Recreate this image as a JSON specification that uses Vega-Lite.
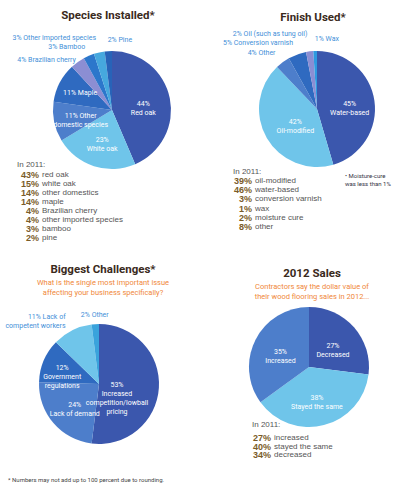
{
  "$schema": "https://vega.github.io/schema/vega-lite/v6.json",
  "padding": {"top": 9, "left": 0, "right": 0, "bottom": 0},
  "background": "white",
  "config": {
    "view": {"stroke": null},
    "font": "Roboto",
    "title": {"font": "Roboto", "fontSize": 11.5, "fontWeight": "bold", "color": "#3a2a1c", "frame": "group"},
    "text": {"font": "Roboto", "fontSize": 7, "lineHeight": 9}
  },
  "columns": 2,
  "bounds": "flush",
  "align": "each",
  "spacing": 0,
  "resolve": {"scale": {"color": "independent", "theta": "independent", "y": "independent", "x": "independent"}},
  "concat": [
    {
      "width": 224,
      "height": 120,
      "title": {"text": "Species Installed*", "offset": 11, "dx": -4},
      "data": {"values": [
        {"species": "Red oak", "share": 44, "rank": 1, "label": "44%\nRed oak"},
        {"species": "White oak", "share": 23, "rank": 2, "label": "23%\nWhite oak"},
        {"species": "Other domestic species", "share": 11, "rank": 3, "label": "11% Other\ndomestic species"},
        {"species": "Maple", "share": 11, "rank": 4, "label": "11% Maple"},
        {"species": "Brazilian cherry", "share": 4, "rank": 5, "label": "4% Brazilian cherry"},
        {"species": "Bamboo", "share": 3, "rank": 6, "label": "3% Bamboo"},
        {"species": "Other imported species", "share": 3, "rank": 7, "label": "3% Other imported species"},
        {"species": "Pine", "share": 2, "rank": 8, "label": "2% Pine"}
      ]},
      "encoding": {
        "theta": {"field": "share", "type": "quantitative", "stack": true},
        "order": {"field": "rank", "type": "quantitative"},
        "detail": {"field": "species", "type": "nominal"}
      },
      "layer": [
        {
          "mark": {"type": "arc", "outerRadius": 59},
          "encoding": {
            "color": {"field": "species", "type": "nominal", "legend": null,
              "scale": {"domain": ["Red oak", "White oak", "Other domestic species", "Maple", "Brazilian cherry", "Bamboo", "Other imported species", "Pine"],
                        "range": ["#3b57ad", "#6fc5ea", "#4d7ecb", "#2f6ac0", "#8b8ed3", "#2c77cb", "#46a8de", "#2863b8"]}}
          }
        },
        {
          "mark": {"type": "text", "radius": 32, "color": "white", "lineBreak": "\n"},
          "encoding": {"text": {"condition": {"test": "datum.rank <= 3", "field": "label"}, "value": ""}}
        },
        {
          "mark": {"type": "text", "radius": 36, "color": "white"},
          "encoding": {"text": {"condition": {"test": "datum.rank == 4", "field": "label"}, "value": ""}}
        },
        {
          "mark": {"type": "text", "radius": 62, "align": "right", "color": "#3f8fd8"},
          "encoding": {"text": {"condition": {"test": "datum.rank == 5", "field": "label"}, "value": ""}}
        },
        {
          "mark": {"type": "text", "radius": 68, "align": "right", "color": "#3f8fd8"},
          "encoding": {"text": {"condition": {"test": "datum.rank == 6", "field": "label"}, "value": ""}}
        },
        {
          "mark": {"type": "text", "radius": 74, "align": "right", "color": "#3f8fd8"},
          "encoding": {"text": {"condition": {"test": "datum.rank == 7", "field": "label"}, "value": ""}}
        },
        {
          "mark": {"type": "text", "radius": 70, "align": "left", "color": "#3f8fd8"},
          "encoding": {"text": {"condition": {"test": "datum.rank == 8", "field": "label"}, "value": ""}}
        }
      ]
    },
    {
      "width": 186,
      "height": 118,
      "title": {"text": "Finish Used*", "offset": 6, "dx": -4},
      "layer": [
        {
          "data": {"values": [
            {"finish": "Water-based", "share": 45, "rank": 1, "label": "45%\nWater-based"},
            {"finish": "Oil-modified", "share": 42, "rank": 2, "label": "42%\nOil-modified"},
            {"finish": "Other", "share": 4, "rank": 3, "label": "4% Other"},
            {"finish": "Conversion varnish", "share": 5, "rank": 4, "label": "5% Conversion varnish"},
            {"finish": "Oil (such as tung oil)", "share": 2, "rank": 5, "label": "2% Oil (such as tung oil)"},
            {"finish": "Wax", "share": 1, "rank": 6, "label": "1% Wax"}
          ]},
          "encoding": {
            "theta": {"field": "share", "type": "quantitative", "stack": true},
            "order": {"field": "rank", "type": "quantitative"},
            "detail": {"field": "finish", "type": "nominal"}
          },
          "layer": [
            {
              "mark": {"type": "arc", "outerRadius": 58},
              "encoding": {
                "color": {"field": "finish", "type": "nominal", "legend": null,
                  "scale": {"domain": ["Water-based", "Oil-modified", "Other", "Conversion varnish", "Oil (such as tung oil)", "Wax"],
                            "range": ["#3b57ad", "#6fc5ea", "#4d7ecb", "#2f6ac0", "#8b8ed3", "#2e9ae0"]}}
              }
            },
            {
              "mark": {"type": "text", "radius": 33, "color": "white", "lineBreak": "\n"},
              "encoding": {"text": {"condition": {"test": "datum.rank == 1", "field": "label"}, "value": ""}}
            },
            {
              "mark": {"type": "text", "radius": 25, "color": "white", "lineBreak": "\n"},
              "encoding": {"text": {"condition": {"test": "datum.rank == 2", "field": "label"}, "value": ""}}
            },
            {
              "mark": {"type": "text", "radius": 70, "align": "right", "color": "#3f8fd8"},
              "encoding": {"text": {"condition": {"test": "datum.rank == 3 || datum.rank == 4", "field": "label"}, "value": ""}}
            },
            {
              "mark": {"type": "text", "radius": 76, "align": "right", "color": "#3f8fd8"},
              "encoding": {"text": {"condition": {"test": "datum.rank == 5", "field": "label"}, "value": ""}}
            },
            {
              "mark": {"type": "text", "radius": 70, "align": "left", "color": "#3f8fd8"},
              "encoding": {"text": {"condition": {"test": "datum.rank == 6", "field": "label"}, "value": ""}}
            }
          ]
        },
        {
          "data": {"values": [{"note": "• Moisture-cure\nwas less than 1%"}]},
          "mark": {"type": "text", "align": "left", "dx": 28, "dy": 67, "fontSize": 6, "lineHeight": 8, "lineBreak": "\n", "color": "#333344"},
          "encoding": {"text": {"field": "note", "type": "nominal"}}
        }
      ]
    },
    {
      "width": 80,
      "height": 166,
      "title": {"text": "In 2011:", "anchor": "start", "dx": 17, "offset": 1, "fontSize": 8, "fontWeight": "normal", "color": "#555555", "font": "Liberation Sans"},
      "data": {"values": [
        {"item": "red oak", "share": 0.43, "rank": 1},
        {"item": "white oak", "share": 0.15, "rank": 2},
        {"item": "other domestics", "share": 0.14, "rank": 3},
        {"item": "maple", "share": 0.14, "rank": 4},
        {"item": "Brazilian cherry", "share": 0.04, "rank": 5},
        {"item": "other imported species", "share": 0.04, "rank": 6},
        {"item": "bamboo", "share": 0.03, "rank": 7},
        {"item": "pine", "share": 0.02, "rank": 8}
      ]},
      "encoding": {
        "y": {"field": "rank", "type": "quantitative", "axis": null,
              "scale": {"domain": [0.5, 18.944], "reverse": true, "nice": false, "zero": false}}
      },
      "layer": [
        {
          "mark": {"type": "text", "align": "right", "dx": -1, "font": "Liberation Sans", "fontWeight": "bold", "fontSize": 9, "color": "#7a5c28"},
          "encoding": {"text": {"field": "share", "type": "quantitative", "format": ".0%"}}
        },
        {
          "mark": {"type": "text", "align": "left", "dx": 2, "font": "Liberation Sans", "fontSize": 8, "color": "#555555"},
          "encoding": {"text": {"field": "item", "type": "nominal"}}
        }
      ]
    },
    {
      "width": 58,
      "height": 166,
      "title": {"text": "In 2011:", "anchor": "start", "dx": 9, "offset": -6, "fontSize": 8, "fontWeight": "normal", "color": "#555555", "font": "Liberation Sans"},
      "data": {"values": [
        {"item": "oil-modified", "share": 0.39, "rank": 1},
        {"item": "water-based", "share": 0.46, "rank": 2},
        {"item": "conversion varnish", "share": 0.03, "rank": 3},
        {"item": "wax", "share": 0.01, "rank": 4},
        {"item": "moisture cure", "share": 0.02, "rank": 5},
        {"item": "other", "share": 0.08, "rank": 6}
      ]},
      "encoding": {
        "y": {"field": "rank", "type": "quantitative", "axis": null,
              "scale": {"domain": [-0.1957, 17.848], "reverse": true, "nice": false, "zero": false}}
      },
      "layer": [
        {
          "mark": {"type": "text", "align": "right", "dx": -1, "font": "Liberation Sans", "fontWeight": "bold", "fontSize": 9, "color": "#7a5c28"},
          "encoding": {"text": {"field": "share", "type": "quantitative", "format": ".0%"}}
        },
        {
          "mark": {"type": "text", "align": "left", "dx": 2, "font": "Liberation Sans", "fontSize": 8, "color": "#555555"},
          "encoding": {"text": {"field": "item", "type": "nominal"}}
        }
      ]
    },
    {
      "width": 198,
      "height": 96,
      "title": {"text": "Biggest Challenges*", "subtitle": ["What is the single most important issue", "affecting your business specifically?"],
                "subtitleColor": "#f0883a", "subtitleFontSize": 7.5, "subtitleFont": "Roboto",
                "subtitleLineHeight": 10, "subtitlePadding": 3, "offset": 9, "dx": 4},
      "data": {"values": [
        {"issue": "Increased competition/lowball pricing", "share": 53, "rank": 1, "label": "53%\nIncreased\ncompetition/lowball\npricing"},
        {"issue": "Lack of demand", "share": 24, "rank": 2, "label": "24%\nLack of demand"},
        {"issue": "Government regulations", "share": 12, "rank": 3, "label": "12%\nGovernment\nregulations"},
        {"issue": "Lack of competent workers", "share": 11, "rank": 4, "label": "11% Lack of\ncompetent workers"},
        {"issue": "Other", "share": 2, "rank": 5, "label": "2% Other"}
      ]},
      "encoding": {
        "theta": {"field": "share", "type": "quantitative", "stack": true},
        "order": {"field": "rank", "type": "quantitative"},
        "detail": {"field": "issue", "type": "nominal"}
      },
      "layer": [
        {
          "mark": {"type": "arc", "outerRadius": 60},
          "encoding": {
            "color": {"field": "issue", "type": "nominal", "legend": null,
              "scale": {"domain": ["Increased competition/lowball pricing", "Lack of demand", "Government regulations", "Lack of competent workers", "Other"],
                        "range": ["#3b57ad", "#4d7ecb", "#2f6ac0", "#6fc5ea", "#3aa3dc"]}}
          }
        },
        {
          "mark": {"type": "text", "radius": 18, "color": "white", "lineBreak": "\n"},
          "encoding": {"text": {"condition": {"test": "datum.rank == 1", "field": "label"}, "value": ""}}
        },
        {
          "mark": {"type": "text", "radius": 32, "color": "white", "lineBreak": "\n"},
          "encoding": {"text": {"condition": {"test": "datum.rank == 2", "field": "label"}, "value": ""}}
        },
        {
          "mark": {"type": "text", "radius": 40, "color": "white", "lineBreak": "\n"},
          "encoding": {"text": {"condition": {"test": "datum.rank == 3", "field": "label"}, "value": ""}}
        },
        {
          "mark": {"type": "text", "radius": 75, "align": "right", "color": "#3f8fd8", "lineBreak": "\n"},
          "encoding": {"text": {"condition": {"test": "datum.rank == 4", "field": "label"}, "value": ""}}
        },
        {
          "mark": {"type": "text", "radius": 69, "align": "center", "color": "#3f8fd8"},
          "encoding": {"text": {"condition": {"test": "datum.rank == 5", "field": "label"}, "value": ""}}
        }
      ]
    },
    {
      "width": 170,
      "height": 62,
      "title": {"text": "2012 Sales", "subtitle": ["Contractors say the dollar value of", "their wood flooring sales in 2012..."],
                "subtitleColor": "#f0883a", "subtitleFontSize": 7.5, "subtitleFont": "Roboto",
                "subtitleLineHeight": 10, "subtitlePadding": 3, "offset": 7, "dx": 3},
      "data": {"values": [
        {"change": "Decreased", "share": 27, "rank": 1, "label": "27%\nDecreased"},
        {"change": "Stayed the same", "share": 38, "rank": 2, "label": "38%\nStayed the same"},
        {"change": "Increased", "share": 35, "rank": 3, "label": "35%\nIncreased"}
      ]},
      "encoding": {
        "theta": {"field": "share", "type": "quantitative", "stack": true},
        "order": {"field": "rank", "type": "quantitative"},
        "detail": {"field": "change", "type": "nominal"}
      },
      "layer": [
        {
          "mark": {"type": "arc", "outerRadius": 60},
          "encoding": {
            "color": {"field": "change", "type": "nominal", "legend": null,
              "scale": {"domain": ["Decreased", "Stayed the same", "Increased"], "range": ["#3b57ad", "#6fc5ea", "#4d7ecb"]}}
          }
        },
        {
          "mark": {"type": "text", "radius": 32, "color": "white", "lineBreak": "\n"},
          "encoding": {"text": {"field": "label", "type": "nominal"}}
        }
      ]
    },
    {
      "width": 16,
      "height": 96,
      "data": {"values": [{"note": "* Numbers may not add up to 100 percent due to rounding."}]},
      "mark": {"type": "text", "align": "left", "fontSize": 6, "color": "#444444"},
      "encoding": {"text": {"field": "note", "type": "nominal"}}
    },
    {
      "width": 96,
      "height": 29,
      "title": {"text": "In 2011:", "anchor": "start", "dx": 28, "offset": 3, "fontSize": 8, "fontWeight": "normal", "color": "#555555", "font": "Liberation Sans"},
      "data": {"values": [
        {"item": "increased", "share": 0.27, "rank": 1},
        {"item": "stayed the same", "share": 0.40, "rank": 2},
        {"item": "decreased", "share": 0.34, "rank": 3}
      ]},
      "encoding": {
        "y": {"field": "rank", "type": "quantitative", "axis": null,
              "scale": {"domain": [0.294, 3.706], "reverse": true, "nice": false, "zero": false}}
      },
      "layer": [
        {
          "mark": {"type": "text", "align": "right", "dx": -1, "font": "Liberation Sans", "fontWeight": "bold", "fontSize": 9, "color": "#7a5c28"},
          "encoding": {"text": {"field": "share", "type": "quantitative", "format": ".0%"}}
        },
        {
          "mark": {"type": "text", "align": "left", "dx": 2, "font": "Liberation Sans", "fontSize": 8, "color": "#555555"},
          "encoding": {"text": {"field": "item", "type": "nominal"}}
        }
      ]
    }
  ]
}
